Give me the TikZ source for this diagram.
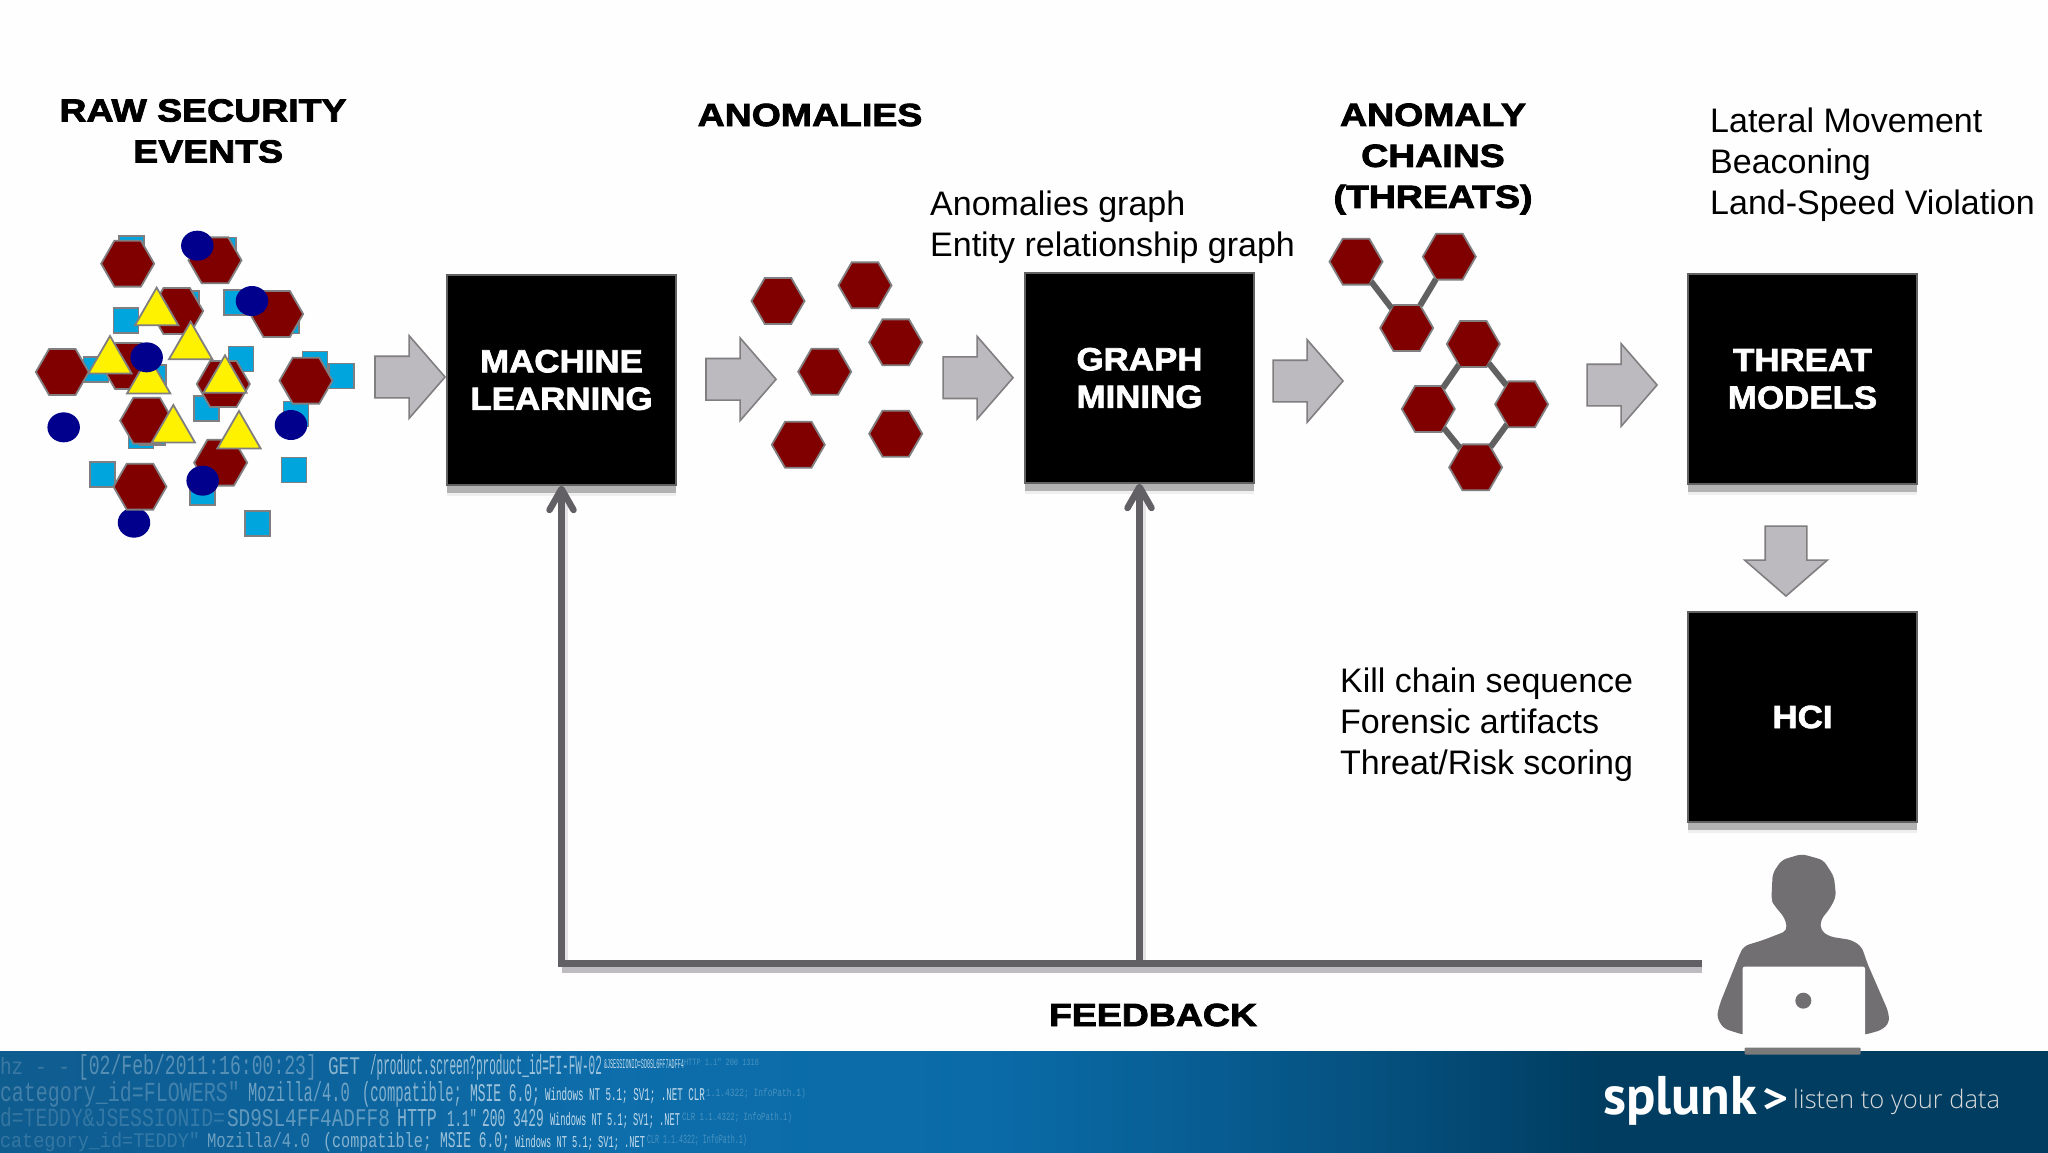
\documentclass[tikz,border=0pt]{standalone}
\usepackage{fontspec}
\usepackage{graphicx}
\setmainfont{Liberation Sans}
\newfontfamily\heavywide[FakeBold=2.6,FakeStretch=1.17]{Liberation Sans Bold}
\newfontfamily\heavyboxed[FakeBold=2.2,FakeStretch=1.09]{Liberation Sans Bold}
\newfontfamily\logfont{Liberation Mono}
\newfontfamily\logo{PT Sans}
\usetikzlibrary{shapes.geometric,shapes.arrows,shadows,arrows.meta}
\definecolor{hexfill}{RGB}{128,0,0}
\definecolor{hexline}{RGB}{128,126,128}
\definecolor{sqfill}{RGB}{0,165,222}
\definecolor{dotfill}{RGB}{0,0,140}
\definecolor{arrfill}{RGB}{188,186,190}
\definecolor{fbline}{RGB}{98,96,100}
\definecolor{fbshadow}{RGB}{190,188,192}
\definecolor{figure}{RGB}{113,111,114}
\pgfdeclarehorizontalshading{bandshade}{100bp}{
  rgb(0bp)=(0.06,0.36,0.56);
  rgb(25bp)=(0.06,0.36,0.56);
  rgb(31bp)=(0.05,0.38,0.60);
  rgb(40bp)=(0.05,0.43,0.67);
  rgb(49bp)=(0.04,0.42,0.66);
  rgb(54bp)=(0.03,0.37,0.58);
  rgb(59bp)=(0.02,0.31,0.49);
  rgb(64bp)=(0.0,0.24,0.38);
  rgb(75bp)=(0.0,0.24,0.38);
  rgb(100bp)=(0.0,0.24,0.38)}
\tikzset{
  hexa/.style={regular polygon,regular polygon sides=6,minimum size=53pt,inner sep=0pt,outer sep=0pt,fill=hexfill,draw=hexline,line width=1.8pt},
  squ/.style={rectangle,minimum size=25pt,inner sep=0pt,outer sep=0pt,fill=sqfill,draw=hexline,line width=1.8pt},
  tri/.style={regular polygon,regular polygon sides=3,minimum size=50pt,inner sep=0pt,outer sep=0pt,fill=yellow,draw=hexline,line width=1.8pt},
  dot/.style={ellipse,minimum width=32.5pt,minimum height=30pt,inner sep=0pt,outer sep=0pt,fill=dotfill},
  blockarrow/.style={single arrow,minimum width=81pt,minimum height=70pt,text height=40pt,text depth=0pt,single arrow head extend=20.5pt,single arrow tip angle=98,single arrow head indent=0pt,inner sep=0pt,outer sep=0pt,fill=arrfill,draw=hexline,line width=1.6pt},
  bigbox/.style={rectangle,minimum width=229pt,minimum height=210pt,inner sep=0pt,fill=black,draw=black!62,line width=1.4pt,text=white,align=center,font=\heavyboxed\fontsize{32}{37.5}\selectfont,
    drop shadow={shadow xshift=0pt,shadow yshift=-11pt,fill=black,opacity=.06},
    drop shadow={shadow xshift=0pt,shadow yshift=-8pt,fill=black!30,opacity=1}},
  heading/.style={align=center,inner sep=0pt,font=\heavywide\fontsize{32}{41}\selectfont},
  plain/.style={align=left,inner sep=0pt,font=\fontsize{34}{41}\selectfont},
  link/.style={line width=6pt,draw=black!62},
  feedback/.style={line width=6.5pt,draw=fbline,line cap=butt},
  fbshade/.style={line width=6.5pt,draw=fbshadow,line cap=butt},
  fbtip/.style={-{Straight Barb[length=21pt,width=24pt,round]}},
  logtext/.style={anchor=base west,inner sep=0pt,outer sep=0pt,text=white}
}
\newcommand{\seg}[7]{% name x y width height opacity text
  \node[logtext,text opacity=#6] (#1) at (#2,#3) {\resizebox{#4pt}{#5pt}{\logfont #7}};}
\begin{document}
\begin{tikzpicture}[x=1pt,y=-1pt]
\useasboundingbox (0,0) rectangle (2048,1152);
\fill[white!99.5!black] (0,0) rectangle (2048,1152);

% scattered raw events
\begin{scope}[shift={(0,210)},x=0.33333pt,y=-0.33333pt]
\foreach \i/\px/\py in {1/395/115,2/670/120,3/560/281,4/378/332,5/710/278,6/860/333,7/288/478,8/723/447,9/945/462,10/1025/498,11/460/503,12/620/595,13/888/612,14/423/678,15/457/668,16/307/793,17/882/780,18/608/847,19/772/940}
  \node[squ] (rs\i) at (\px,\py) {};
\node[dot] (rd7) at (402,938) {};
\foreach \i/\px/\py in {1/383/161,2/645/151,3/830/312,4/530/303,5/385/468,6/187/486,7/918/512,8/670/522,9/440/632,10/662/758,11/420/830}
  \node[hexa] (rh\i) at (\px,\py) {};
\foreach \i/\px/\py in {1/470/308,2/572/410,3/330/453,4/446/513,5/675/511,6/520/660,7/717/678}
  \node[tri] (rt\i) at (\px,\py) {};
\foreach \i/\px/\py in {1/592/107,2/756/273,3/440/442,4/191/652,5/873/645,6/608/812}
  \node[dot] (rd\i) at (\px,\py) {};
\end{scope}

% anomalies
\foreach \i/\px/\py in {1/778/301,2/865/285.3,3/895.7/342.3,4/824.7/371.7,5/798.3/444.7,6/895.7/433.7}
  \node[hexa] (an\i) at (\px,\py) {};

% chains
\begin{scope}[shift={(1300,220)},x=0.33333pt,y=-0.33333pt]
\node[hexa] (c1) at (168,125) {};
\node[hexa] (c2) at (448,110) {};
\node[hexa] (c3) at (320,324) {};
\node[hexa] (c4) at (520,372) {};
\node[hexa] (c5) at (385,567) {};
\node[hexa] (c6) at (665,553) {};
\node[hexa] (c7) at (527,742) {};
\end{scope}
\draw[link] (c1)--(c3);
\draw[link] (c2)--(c3);
\draw[link] (c4)--(c5);
\draw[link] (c4)--(c6);
\draw[link] (c5)--(c7);
\draw[link] (c6)--(c7);

% boxes
\node[bigbox] (ml) at (561.5,380) {MACHINE\\LEARNING};
\node[bigbox] (gm) at (1139.5,378) {GRAPH\\MINING};
\node[bigbox] (tm) at (1802.5,379) {THREAT\\MODELS};
\node[bigbox] (hci) at (1802.5,717) {HCI};

% block arrows
\node[blockarrow] (a1) at (401,377) {};
\node[blockarrow] (a2) at (732,379.3) {};
\node[blockarrow] (a3) at (969,377.7) {};
\node[blockarrow] (a4) at (1299,381) {};
\node[blockarrow] (a5) at (1613,385) {};
\node[blockarrow,rotate=-90] (a6) at (1786,552) {};

% band
\shade[shading=bandshade] (0,1051) rectangle (2048,1152);
\seg{l1a}{0}{1074}{70}{17}{.18}{hz - -}
\seg{l1b}{78}{1074}{239}{20}{.30}{[02/Feb/2011:16:00:23]}
\seg{l1c}{328}{1074}{32}{17}{.50}{GET}
\seg{l1d}{370}{1074}{232}{20}{.60}{/product.screen?product\_id=FI-FW-02}
\seg{l1e}{604}{1068}{80}{9}{.75}{\&JSESSIONID=SD0SL6FF7ADFF4}
\seg{l1f}{684}{1065}{75}{7}{.25}{HTTP 1.1" 200 1318}
\seg{l2a}{0}{1101}{240}{20}{.22}{category\_id=FLOWERS"}
\seg{l2b}{248}{1101}{102}{20}{.40}{Mozilla/4.0}
\seg{l2c}{362}{1101}{100}{20}{.50}{(compatible;}
\seg{l2d}{470}{1101}{70}{17}{.60}{MSIE 6.0;}
\seg{l2e}{545}{1100}{160}{13}{.75}{Windows NT 5.1; SV1; .NET CLR}
\seg{l2f}{706}{1096}{100}{8}{.25}{1.1.4322; InfoPath.1)}
\seg{l3a}{0}{1126}{225}{19}{.16}{d=TEDDY\&JSESSIONID=}
\seg{l3b}{227}{1126}{163}{17}{.35}{SD9SL4FF4ADFF8}
\seg{l3c}{397}{1126}{40}{17}{.50}{HTTP}
\seg{l3d}{447}{1126}{30}{17}{.55}{1.1"}
\seg{l3e}{482}{1126}{62}{17}{.60}{200 3429}
\seg{l3f}{550}{1125}{130}{13}{.75}{Windows NT 5.1; SV1; .NET}
\seg{l3g}{682}{1120}{110}{8}{.25}{CLR 1.1.4322; InfoPath.1)}
\seg{l4a}{0}{1147}{200}{15}{.16}{category\_id=TEDDY"}
\seg{l4b}{207}{1147}{103}{15}{.40}{Mozilla/4.0}
\seg{l4c}{323}{1147}{109}{15}{.50}{(compatible;}
\seg{l4d}{440}{1147}{70}{15}{.60}{MSIE 6.0;}
\seg{l4e}{515}{1147}{130}{12}{.75}{Windows NT 5.1; SV1; .NET}
\seg{l4f}{647}{1143}{100}{9}{.25}{CLR 1.1.4322; InfoPath.1)}

% person
\begin{scope}[shift={(1550,840)},x=0.33333pt,y=-0.33333pt]
\fill[figure,rounded corners=5pt] (712,272)--(705,235)--(672,195)--(664,180)--(668,100)--(695,60)--(755,42)--(820,60)--(852,110)--(858,170)--(840,205)--(812,240)--(812,272)--(840,290)--(905,300)--(935,320)--(952,370)--(1015,515)--(1018,548)--(995,570)--(945,584)--(578,584)--(520,565)--(500,530)--(510,490)--(570,340)--(582,318)--(640,300)--cycle;
\fill[white!99.5!black,rounded corners=2pt] (578,380) rectangle (945,625);
\fill[figure] (760,482) circle (8pt);
\coordinate (fbk) at (457,370);
\node[rectangle,fill=black!52,minimum width=116pt,minimum height=7pt,inner sep=0pt,rounded corners=1pt] (base) at (758,633) {};
\end{scope}

% feedback
\coordinate (fb1) at (ml.south |- fbk);
\coordinate (fb2) at (gm.south |- fbk);
\draw[fbshade,transform canvas={yshift=-6pt}] (fbk) -- (fb1);
\draw[line width=5pt,draw=fbshadow,opacity=.4,transform canvas={xshift=4pt}] (fb1) -- ([yshift=-10pt]ml.south);
\draw[line width=5pt,draw=fbshadow,opacity=.4,transform canvas={xshift=4pt}] (fb2) -- ([yshift=-10pt]gm.south);
\draw[feedback,fbtip,line join=miter] (fbk) -- (fb1) -- (ml.south);
\draw[feedback,fbtip] (fb2) -- (gm.south);

% texts
\node[heading] (t1) at (203,131) {RAW SECURITY\\\ EVENTS};
\node[heading] (t2) at (810,115) {ANOMALIES};
\node[heading] (t3) at (1433,159) {ANOMALY\\CHAINS\\(THREATS)};
\node[heading] (t4) at (1153,1015) {FEEDBACK};
\node[plain,anchor=west] (p1) at (1710,165) {Lateral Movement\\Beaconing\\Land-Speed Violation};
\node[plain,anchor=west] (p2) at (930,227) {Anomalies graph\\Entity relationship graph};
\node[plain,anchor=west] (p3) at (1340,725) {Kill chain sequence\\Forensic artifacts\\Threat/Risk scoring};

% logo
\node[anchor=base west,inner sep=0pt,text=white] (lg1) at (1603,1114) {\resizebox{154pt}{!}{\logo\fontsize{54}{54}\selectfont\bfseries splunk}};
\node[anchor=base west,inner sep=0pt,text=white] (lg2) at (1762,1112) {\resizebox{26pt}{24pt}{\logo\bfseries >}};
\node[anchor=base west,inner sep=0pt,text=white!85!black] (lg3) at (1793,1108) {\resizebox{207pt}{!}{\fontspec{Open Sans Light}\fontsize{26}{26}\selectfont listen to your data}};
\end{tikzpicture}
\end{document}
